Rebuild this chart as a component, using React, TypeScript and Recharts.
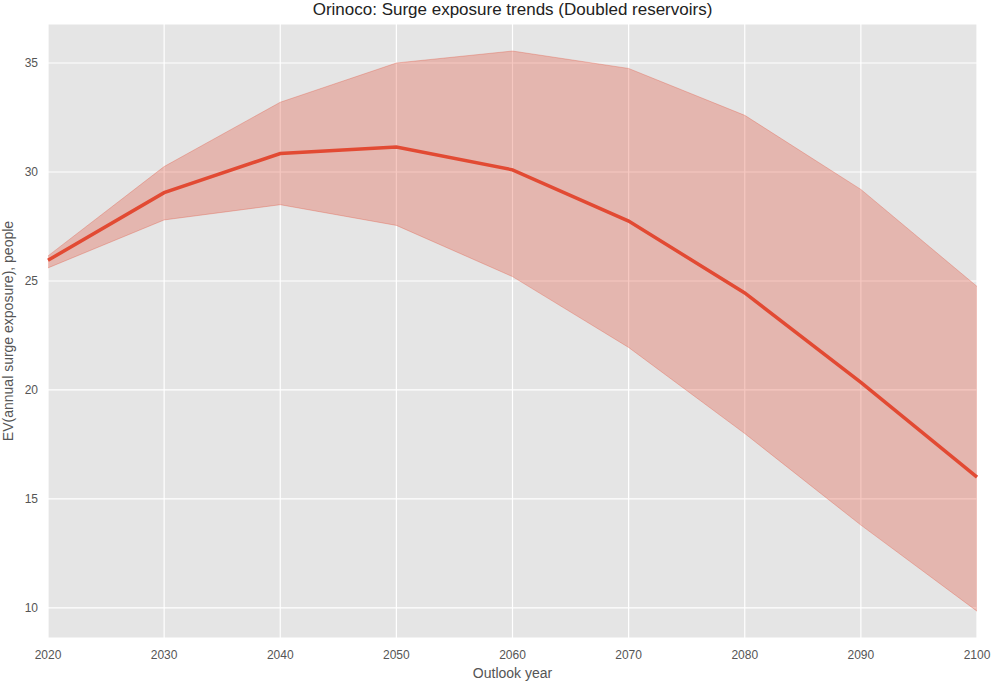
import { Area, CartesianGrid, ComposedChart, Line, XAxis, YAxis } from "recharts"

const years = [2020, 2030, 2040, 2050, 2060, 2070, 2080, 2090, 2100]
const mean = [25.95, 29.05, 30.85, 31.15, 30.1, 27.75, 24.45, 20.35, 16.0]
const upper = [26.15, 30.25, 33.2, 35.0, 35.55, 34.75, 32.6, 29.2, 24.75]
const lower = [25.6, 27.8, 28.5, 27.55, 25.2, 21.95, 18.0, 13.8, 9.85]
const yTicks = [10, 15, 20, 25, 30, 35]

const RED = "#E24A33"
const FONT = "'Liberation Sans', Arial, sans-serif"

const data = years.map((y, i) => ({ year: y, mean: mean[i], band: [lower[i], upper[i]] }))

export default function App() {
  return (
    <div style={{ position: "absolute", left: 0, top: 0, width: 992, height: 683, background: "#fff", fontFamily: FONT }}>
      <div style={{ position: "absolute", top: 0, left: 48, width: 929, textAlign: "center", fontSize: 17, color: "#222" }}>
        Orinoco: Surge exposure trends (Doubled reservoirs)
      </div>
      <div style={{ position: "absolute", top: 665, left: 48, width: 929, textAlign: "center", fontSize: 14, color: "#555" }}>
        Outlook year
      </div>
      <div
        style={{
          position: "absolute", left: 8, top: 331, width: 0, height: 0, overflow: "visible",
        }}
      >
        <div style={{ position: "absolute", left: -200, top: -8, width: 400, textAlign: "center", fontSize: 14, color: "#555", transform: "rotate(-90deg)", lineHeight: "16px" }}>
          EV(annual surge exposure), people
        </div>
      </div>
      <ComposedChart width={992} height={683} data={data} margin={{ top: 24, right: 15, bottom: 15, left: 0 }}>
        <CartesianGrid fill="#e5e5e5" stroke="#fff" strokeWidth={1.2} />
        <XAxis
          dataKey="year"
          type="number"
          domain={[2020, 2100]}
          ticks={years}
          height={30}
          axisLine={false}
          tickLine={false}
          tick={{ fill: "#555", fontSize: 12, fontFamily: FONT }}
          tickMargin={6}
        />
        <YAxis
          width={48}
          domain={[8.62, 36.79]}
          ticks={yTicks}
          axisLine={false}
          tickLine={false}
          tick={{ fill: "#555", fontSize: 12, fontFamily: FONT }}
          tickMargin={4}
        />
        <Area dataKey="band" type="linear" fill={RED} fillOpacity={0.3} stroke={RED} strokeOpacity={0.3} strokeWidth={1} isAnimationActive={false} />
        <Line dataKey="mean" type="linear" stroke={RED} strokeWidth={3.5} dot={false} isAnimationActive={false} />
      </ComposedChart>
    </div>
  )
}
